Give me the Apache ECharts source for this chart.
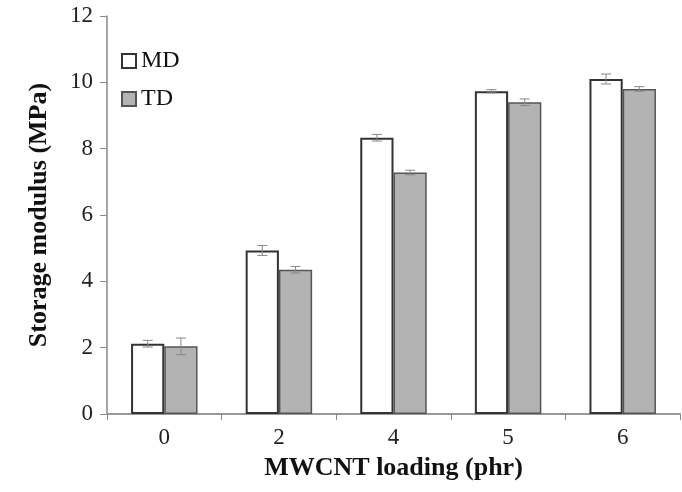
<!DOCTYPE html>
<html>
<head>
<meta charset="utf-8">
<script src="https://cdn.jsdelivr.net/npm/echarts@6/dist/echarts.min.js"></script>
<style>
  html, body { margin: 0; padding: 0; background: #fff; }
  #chart { width: 682px; height: 492px; }
</style>
</head>
<body>
<div id="chart"></div>
<script>
// MWCNT loading levels (phr)
const categories = ['0', '2', '4', '5', '6'];
// Storage modulus (MPa), machine direction and transverse direction
const mdValues = [2.12, 4.93, 8.33, 9.73, 10.1];
const tdValues = [2.04, 4.35, 7.28, 9.4, 9.8];
// Standard deviations for the error bars
const mdErrors = [0.1, 0.15, 0.1, 0.05, 0.15];
const tdErrors = [0.25, 0.1, 0.07, 0.1, 0.07];
const yTicks = { min: 0, max: 12, interval: 2 };

const FONT = '"Liberation Serif", "DejaVu Serif", serif';
const BAR_FRAC = 0.29; // bar width as fraction of a category band

function errorSeries(name, values, errors, side) {
  return {
    type: 'custom',
    name: name + ' error',
    z: 5,
    silent: true,
    data: values.map((v, i) => [i, v, errors[i]]),
    renderItem: function (params, api) {
      const band = api.size([1, 0])[0];
      const off = side * band * BAR_FRAC / 2;
      const low = api.coord([api.value(0), api.value(1) - api.value(2)]);
      const high = api.coord([api.value(0), api.value(1) + api.value(2)]);
      const x = low[0] + off;
      const hw = 5;
      const style = { stroke: '#888', lineWidth: 1, fill: null };
      return {
        type: 'group',
        children: [
          { type: 'line', shape: { x1: x, y1: low[1], x2: x, y2: high[1] }, style },
          { type: 'line', shape: { x1: x - hw, y1: low[1], x2: x + hw, y2: low[1] }, style },
          { type: 'line', shape: { x1: x - hw, y1: high[1], x2: x + hw, y2: high[1] }, style }
        ]
      };
    }
  };
}

const chart = echarts.init(document.getElementById('chart'));
chart.setOption({
  animation: false,
  backgroundColor: '#fff',
  textStyle: { fontFamily: FONT },
  grid: { left: 107, right: 2, top: 16, bottom: 78, containLabel: false },
  legend: {
    orient: 'vertical',
    left: 116,
    top: 44,
    itemWidth: 14,
    itemHeight: 14,
    itemGap: 14,
    icon: 'rect',
    data: ['MD', 'TD'],
    textStyle: { fontFamily: FONT, fontSize: 24, color: '#111', padding: [0, 0, 0, 0] }
  },
  xAxis: {
    type: 'category',
    data: categories,
    name: 'MWCNT loading (phr)',
    nameLocation: 'middle',
    nameGap: 41,
    nameTextStyle: { fontFamily: FONT, fontSize: 26, fontWeight: 'bold', color: '#111' },
    axisLine: { lineStyle: { color: '#999', width: 2 } },
    axisTick: { show: true, alignWithLabel: false, length: 6, lineStyle: { color: '#888' } },
    axisLabel: { fontFamily: FONT, fontSize: 23, color: '#222', margin: 12 }
  },
  yAxis: {
    type: 'value',
    min: yTicks.min,
    max: yTicks.max,
    interval: yTicks.interval,
    name: 'Storage modulus (MPa)',
    nameLocation: 'middle',
    nameRotate: 90,
    nameGap: 55,
    nameTextStyle: { fontFamily: FONT, fontSize: 26, fontWeight: 'bold', color: '#111' },
    axisLine: { show: true, lineStyle: { color: '#888', width: 1.5 } },
    axisTick: { show: true, length: 7, lineStyle: { color: '#888' } },
    splitLine: { show: false },
    axisLabel: { fontFamily: FONT, fontSize: 23, color: '#222', margin: 14 }
  },
  series: [
    {
      name: 'MD',
      type: 'bar',
      data: mdValues,
      barWidth: (BAR_FRAC * 100) + '%',
      barGap: '0%',
      itemStyle: { color: '#fff', borderColor: '#333', borderWidth: 2 }
    },
    {
      name: 'TD',
      type: 'bar',
      data: tdValues,
      barWidth: (BAR_FRAC * 100) + '%',
      barGap: '0%',
      itemStyle: { color: '#b3b3b3', borderColor: '#555', borderWidth: 1.5 }
    },
    errorSeries('MD', mdValues, mdErrors, -1),
    errorSeries('TD', tdValues, tdErrors, 1)
  ]
});
</script>
</body>
</html>
